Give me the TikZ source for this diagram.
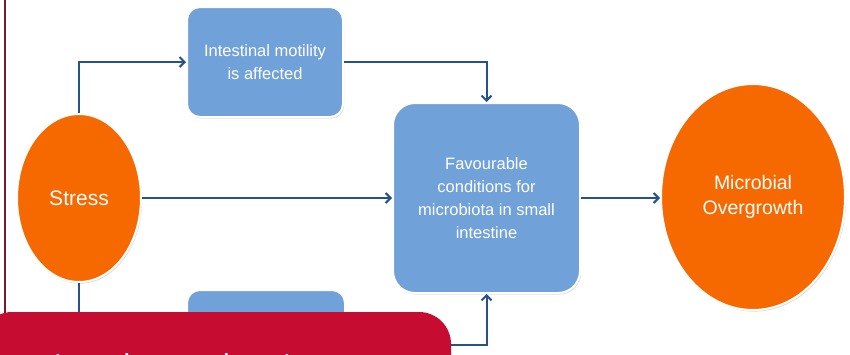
\documentclass[tikz,border=0pt]{standalone}
\usepackage{fontspec}
\setmainfont{Liberation Sans}
\newfontfamily\bannerfont{Open Sans}
\usetikzlibrary{arrows.meta,shapes.geometric,shadows}
\definecolor{orangefill}{RGB}{246,104,0}
\definecolor{bluefill}{RGB}{112,161,216}
\definecolor{arrowblue}{RGB}{38,82,140}
\definecolor{bannerred}{RGB}{198,13,49}
\definecolor{maroonline}{RGB}{128,22,42}
\tikzset{
  softshadow/.style={drop shadow={opacity=0.28,shadow xshift=1.2pt,shadow yshift=-1.6pt}},
  oval/.style={ellipse,fill=orangefill,draw=white,line width=2pt,softshadow,inner sep=0pt,
    text=white,align=center},
  bluebox/.style={rectangle,fill=bluefill,draw=white,line width=2pt,softshadow,inner sep=0pt,
    text=white,font=\fontsize{16.5}{23}\selectfont,align=center},
  arr/.style={draw=arrowblue,line width=2pt,-{Straight Barb[length=5pt,width=10pt,line width=2pt]}},
  bannertext/.style={text=white,font=\bannerfont\fontsize{34}{40}\selectfont,inner sep=0pt}
}
\begin{document}
\begin{tikzpicture}[x=1pt,y=-1pt]
\useasboundingbox (0,0) rectangle (850,354);
\clip (0,0) rectangle (850,354);
\fill[white] (0,0) rectangle (850,354);
\draw[maroonline,line width=1.6pt] (5,-2) -- (5,356);
% nodes
\node[oval,font=\fontsize{21}{25}\selectfont,minimum width=124pt,minimum height=168pt] (stress) at (79,198) {Stress};
\node[bluebox,rounded corners=13pt,minimum width=156pt,minimum height=110pt] (top) at (265,62) {Intestinal motility\\is affected};
\node[bluebox,rounded corners=22pt,minimum width=187pt,minimum height=190pt] (center) at (486.5,198) {Favourable\\conditions for\\microbiota in small\\intestine};
\node[oval,font=\fontsize{19.5}{25}\selectfont,minimum width=184pt,minimum height=226pt] (micro) at (753,197) {Microbial\\Overgrowth};
\node[bluebox,rounded corners=13pt,minimum width=158pt,minimum height=110pt] (bottom) at (266,345) {};
% connectors
\draw[arr] (stress.north) |- (top.west);
\draw[arr] (top.east) -| (center.north);
\draw[arr] (stress.east) -- (stress.east -| center.west);
\draw[arr] (center.east) -- (center.east -| micro.west);
\draw[arr] (stress.south) |- (bottom.west);
\draw[arr] (bottom.east) -| (center.south);
% banner
\fill[bannerred,rounded corners=32pt] (-20,420) -- (-20,312) -- (451,312) -- (451,420) -- cycle;
\node[bannertext,anchor=base west] (bt) at (-34,379) {Functional\hskip 24pt mechanism};
\end{tikzpicture}
\end{document}
